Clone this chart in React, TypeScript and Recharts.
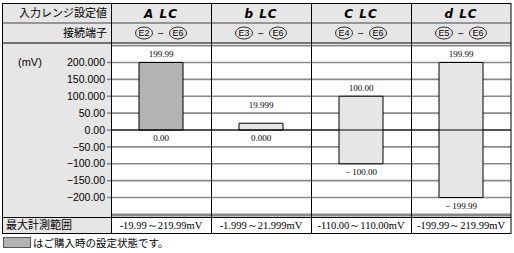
import React from "react";
import {
  Bar,
  BarChart,
  CartesianGrid,
  Cell,
  ReferenceLine,
  XAxis,
  YAxis,
} from "recharts";

const categories = ["A LC", "b LC", "C LC", "d LC"];
const terminals = [
  ["E2", "E6"],
  ["E3", "E6"],
  ["E4", "E6"],
  ["E5", "E6"],
];
const lowValues = [0, 0, -100, -199.99];
const highValues = [199.99, 19.999, 100, 199.99];
const highLabels = ["199.99", "19.999", "100.00", "199.99"];
const lowLabels = ["0.00", "0.000", "− 100.00", "− 199.99"];
const rangeLabels = [
  "-19.99～219.99mV",
  "-1.999～21.999mV",
  "-110.00～110.00mV",
  "-199.99～219.99mV",
];
const yTicks = [200, 150, 100, 50, 0, -50, -100, -150, -200];
const yTickLabels = [
  "200.000",
  "150.000",
  "100.000",
  "50.00",
  "0.00",
  "−50.00",
  "−100.00",
  "−150.00",
  "−200.00",
];
const defaultIndex = 0;
const tickStep = 50;

const data = categories.map((name, i) => ({
  name,
  low: lowValues[i],
  high: highValues[i],
}));

const W = 514;
const H = 253;
const LEFT = 111;
const RIGHT = 511;
const TOP = 3;
const ROW1 = 23;
const ROW2 = 43;
const PLOT_TOP = 45.6;
const PLOT_BOTTOM = 214.4;
const BOTTOM_ROW = 217;
const TABLE_BOTTOM = 233;
const COL_W = (RIGHT - LEFT) / categories.length;

const sans = "'Liberation Sans', Arial, sans-serif";
const serif = "'Liberation Serif', 'Times New Roman', serif";
const cjk = "'Noto Sans CJK JP', sans-serif";

// value labels sit in the middle of the first free grid band beyond the bar end
function ValueLabels(props: any) {
  const { x, y, width, height, index } = props;
  const top = Math.min(y, y + height);
  const bottom = Math.max(y, y + height);
  const hi = highValues[index];
  const lo = lowValues[index];
  const ppu = (bottom - top) / (hi - lo);
  const hiBand = Math.ceil(hi / tickStep - 0.01) * tickStep + tickStep / 2;
  const loBand = Math.floor(lo / tickStep + 0.01) * tickStep - tickStep / 2;
  const cx = x + width / 2;
  return (
    <g fontFamily={serif} fontSize={9} fill="#000" textAnchor="middle">
      <text x={cx} y={top - (hiBand - hi) * ppu + 3}>
        {highLabels[index]}
      </text>
      <text x={cx} y={bottom + (lo - loBand) * ppu + 3}>
        {lowLabels[index]}
      </text>
    </g>
  );
}

function Circled({ cx, cy, text }: { cx: number; cy: number; text: string }) {
  return (
    <g>
      <ellipse cx={cx} cy={cy} rx={8.5} ry={6} fill="none" stroke="#000" strokeWidth={0.8} />
      <text x={cx} y={cy + 3.2} textAnchor="middle" fontFamily={sans} fontSize={9}>
        {text}
      </text>
    </g>
  );
}

function Background() {
  return (
    <svg width={W} height={H} style={{ position: "absolute", left: 0, top: 0 }}>
      <rect x={2} y={TOP} width={RIGHT - 2} height={ROW2 - TOP} fill="#e6e6e6" />
      <rect x={2} y={ROW2} width={LEFT - 2} height={TABLE_BOTTOM - ROW2} fill="#e6e6e6" />
      <rect x={LEFT} y={ROW2} width={RIGHT - LEFT} height={BOTTOM_ROW - ROW2} fill="#fff" />
    </svg>
  );
}

function Foreground() {
  const cols = categories.map((_, i) => LEFT + COL_W * i + COL_W / 2);
  return (
    <svg
      width={W}
      height={H}
      style={{ position: "absolute", left: 0, top: 0, pointerEvents: "none" }}
    >
      {/* header texts */}
      <text x={107} y={17} textAnchor="end" fontFamily={cjk} fontSize={11}>
        入力レンジ設定値
      </text>
      <text x={107} y={37} textAnchor="end" fontFamily={cjk} fontSize={11}>
        接続端子
      </text>
      {categories.map((c, i) => (
        <text
          key={c}
          x={cols[i]}
          y={18}
          textAnchor="middle"
          fontFamily="'DejaVu Sans', sans-serif"
          fontSize={12}
          fontWeight="bold"
          fontStyle="italic"
          letterSpacing={1}
        >
          {c}
        </text>
      ))}
      {terminals.map((t, i) => (
        <g key={i}>
          <Circled cx={cols[i] - 17} cy={33} text={t[0]} />
          <text x={cols[i]} y={36.5} textAnchor="middle" fontFamily={sans} fontSize={10}>
            −
          </text>
          <Circled cx={cols[i] + 17} cy={33} text={t[1]} />
        </g>
      ))}
      <text x={18} y={66} fontFamily={sans} fontSize={11}>
        (mV)
      </text>
      {/* bottom row */}
      <text x={6} y={229} fontFamily={cjk} fontSize={11}>
        最大計測範囲
      </text>
      {rangeLabels.map((r, i) => (
        <text
          key={r}
          x={cols[i]}
          y={229}
          textAnchor="middle"
          fontFamily={serif}
          fontSize={10.5}
        >
          {r}
        </text>
      ))}
      {/* table lines */}
      <line x1={2} x2={RIGHT} y1={ROW1} y2={ROW1} stroke="#444" strokeWidth={1} />
      <line x1={2} x2={RIGHT} y1={ROW2} y2={ROW2} stroke="#000" strokeWidth={1} />
      <line x1={LEFT} x2={RIGHT} y1={215.5} y2={215.5} stroke="#888" strokeWidth={2} />
      <line x1={2} x2={RIGHT} y1={BOTTOM_ROW + 0.5} y2={BOTTOM_ROW + 0.5} stroke="#000" strokeWidth={1} />
      {categories.map((_, i) => (
        <line
          key={i}
          x1={LEFT + COL_W * i + 0.5}
          x2={LEFT + COL_W * i + 0.5}
          y1={TOP}
          y2={TABLE_BOTTOM}
          stroke="#000"
          strokeWidth={1}
        />
      ))}
      <rect
        x={2.5}
        y={TOP + 0.5}
        width={RIGHT - 2.5}
        height={TABLE_BOTTOM - TOP}
        fill="none"
        stroke="#000"
        strokeWidth={1}
      />
      {/* legend */}
      <rect x={3.5} y={237.5} width={27} height={10} fill="#b3b3b3" stroke="#555" strokeWidth={1} />
      <text x={33} y={247} fontFamily={cjk} fontSize={10.5}>
        はご購入時の設定状態です。
      </text>
    </svg>
  );
}

export default function App() {
  return (
    <div style={{ position: "absolute", left: 0, top: 0, width: W, height: H }}>
      <Background />
      <div style={{ position: "absolute", left: 0, top: 0 }}>
        <BarChart
          width={W}
          height={H}
          data={data}
          margin={{ top: PLOT_TOP, right: W - RIGHT, bottom: H - PLOT_BOTTOM, left: 0 }}
          barCategoryGap={0}
        >
          <CartesianGrid horizontal vertical={false} stroke="#8a8a8a" strokeWidth={1.6} />
          <XAxis dataKey="name" hide />
          <YAxis
            width={LEFT}
            domain={[-250, 250]}
            ticks={yTicks}
            interval={0}
            axisLine={false}
            tickSize={4}
            tickLine={{ stroke: "#8a8a8a", strokeWidth: 1.6 }}
            tickFormatter={(v: number) => yTickLabels[yTicks.indexOf(v)]}
            tick={{ fill: "#000", fontFamily: sans, fontSize: 10.5 }}
          />
          <ReferenceLine y={0} stroke="#000" strokeWidth={1} />
          <Bar
            dataKey={(d: any) => [d.low, d.high]}
            barSize={44}
            stroke="#000"
            strokeWidth={1}
            isAnimationActive={false}
            label={<ValueLabels />}
          >
            {data.map((_, i) => (
              <Cell key={i} fill={i === defaultIndex ? "#b3b3b3" : "#e6e6e6"} />
            ))}
          </Bar>
        </BarChart>
      </div>
      <Foreground />
    </div>
  );
}
